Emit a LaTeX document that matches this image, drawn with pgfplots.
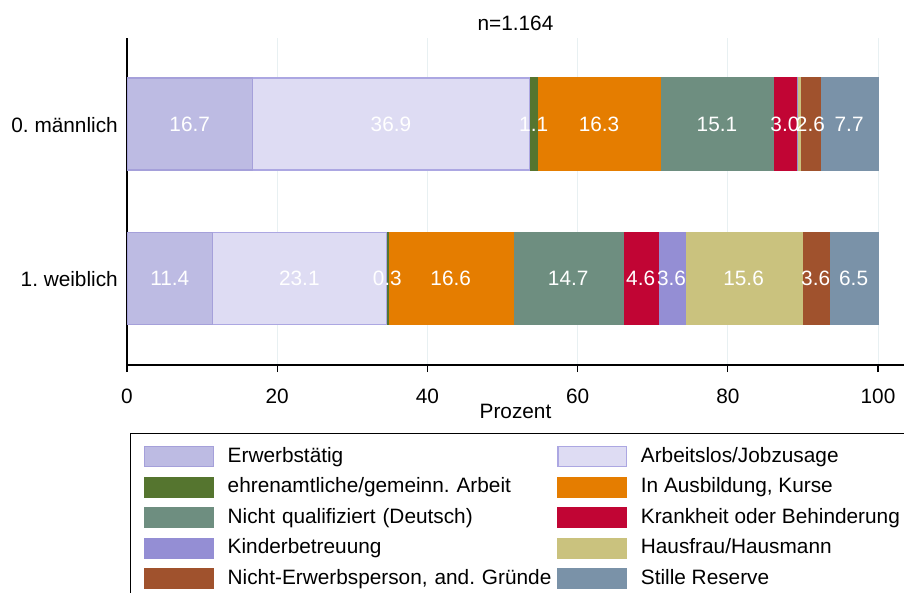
\documentclass[border=0pt]{standalone}
\usepackage{fontspec}
\setmainfont{Liberation Sans}
\usepackage{pgfplots}
\pgfplotsset{compat=1.18}
\usepackage{pgfplotstable}
\frenchspacing

\definecolor{c1}{RGB}{189,187,227}
\definecolor{c1b}{RGB}{165,160,218}
\definecolor{c2}{RGB}{222,220,243}
\definecolor{c2b}{RGB}{172,167,226}
\definecolor{c3}{RGB}{85,117,47}
\definecolor{c4}{RGB}{229,125,0}
\definecolor{c5}{RGB}{110,142,128}
\definecolor{c6}{RGB}{193,5,52}
\definecolor{c7}{RGB}{148,142,212}
\definecolor{c8}{RGB}{202,194,126}
\definecolor{c9}{RGB}{160,82,45}
\definecolor{c10}{RGB}{122,146,168}
\definecolor{gridc}{RGB}{232,240,242}

\newcommand{\fs}{\fontsize{20.8pt}{25pt}\selectfont}

% pos 0 = weiblich, pos 1 = maennlich
\pgfplotstableread{
pos val show
0 11.4 1
1 16.7 1
}\erw
\pgfplotstableread{
pos val show
0 23.1 1
1 36.9 1
}\arb
\pgfplotstableread{
pos val show
0 0.3 1
1 1.1 1
}\ehr
\pgfplotstableread{
pos val show
0 16.6 1
1 16.3 1
}\aus
\pgfplotstableread{
pos val show
0 14.7 1
1 15.1 1
}\nq
\pgfplotstableread{
pos val show
0 4.6 1
1 3.0 1
}\kra
\pgfplotstableread{
pos val show
0 3.6 1
1 0.1 0
}\kin
\pgfplotstableread{
pos val show
0 15.6 1
1 0.5 0
}\hau
\pgfplotstableread{
pos val show
0 3.6 1
1 2.6 1
}\nep
\pgfplotstableread{
pos val show
0 6.5 1
1 7.7 1
}\sti

\begin{document}
\fs
\begin{tikzpicture}
\useasboundingbox (0,0) rectangle (904pt,592pt);
\clip (0,0) rectangle (904pt,592pt);
\begin{axis}[
  at={(127pt,227pt)}, anchor=south west,
  scale only axis, width=777pt, height=327pt,
  xbar stacked, bar width=92pt,
  xmin=0, xmax=103.46, ymin=-0.560, ymax=1.557,
  axis x line*=bottom, axis y line*=left,
  axis line style={line width=1.2pt, black},
  xtick={0,20,...,100}, ytick={0,1},
  yticklabels={1. weiblich, 0. männlich},
  xmajorgrids, grid style={color=gridc, line width=1pt},
  tick align=outside, major tick length=7pt,
  xtick style={line width=1.2pt, black},
  ytick style={draw=none},
  /pgf/number format/assume math mode=true,
  xticklabel style={anchor=base, yshift=-31pt, inner sep=0pt, font=\fs},
  yticklabel style={anchor=base east, xshift=-2pt, yshift=-8pt, inner sep=0pt, font=\fs},
  xlabel={Prozent},
  xlabel style={at={(axis description cs:0.5,0)}, anchor=base, yshift=-53pt, inner sep=0pt, font=\fs},
  title={n=1.164},
  title style={at={(axis description cs:0.5,1)}, anchor=base, yshift=1pt, inner sep=0pt, font=\fs},
  point meta=explicit symbolic,
  visualization depends on={rawx \as \vv},
  nodes near coords={\ifnum\pgfplotspointmeta=1 \pgfmathprintnumber[fixed,fixed zerofill,precision=1]{\vv}\fi},
  every node near coord/.append style={anchor=center, text=white, font=\fs, inner sep=0pt},
  legend columns=2,
  legend cell align=left,
  legend image code/.code={\draw[#1, line width=1.2pt] (0.6pt,-9.9pt) rectangle (69.4pt,9.9pt); \path (0pt,0pt) (83pt,0pt);},
  legend style={at={(axis description cs:0,0)}, anchor=north west, xshift=3pt, yshift=-68pt,
     draw=black, line width=1pt, inner xsep=13pt, inner ysep=12.5pt, row sep=9.5pt, column sep=0pt,
     font=\fs, nodes={inner sep=0pt},
     /tikz/column 2/.style={nodes={text width=329pt, inner sep=0pt}}},
]
\addplot[fill=c1, draw=c1b, line width=1.2pt] table[x=val, y=pos, meta=show] {\erw};
\addlegendentry{Erwerbstätig}
\addplot[fill=c2, draw=c2b, line width=1.2pt] table[x=val, y=pos, meta=show] {\arb};
\addlegendentry{Arbeitslos/Jobzusage}
\addplot[fill=c3, draw=c3, line width=1.2pt] table[x=val, y=pos, meta=show] {\ehr};
\addlegendentry{ehrenamtliche/gemeinn. Arbeit}
\addplot[fill=c4, draw=c4, line width=1.2pt] table[x=val, y=pos, meta=show] {\aus};
\addlegendentry{In Ausbildung, Kurse}
\addplot[fill=c5, draw=c5, line width=1.2pt] table[x=val, y=pos, meta=show] {\nq};
\addlegendentry{Nicht qualifiziert (Deutsch)}
\addplot[fill=c6, draw=c6, line width=1.2pt] table[x=val, y=pos, meta=show] {\kra};
\addlegendentry{Krankheit oder Behinderung}
\addplot[fill=c7, draw=c7, line width=1.2pt] table[x=val, y=pos, meta=show] {\kin};
\addlegendentry{Kinderbetreuung}
\addplot[fill=c8, draw=c8, line width=1.2pt] table[x=val, y=pos, meta=show] {\hau};
\addlegendentry{Hausfrau/Hausmann}
\addplot[fill=c9, draw=c9, line width=1.2pt] table[x=val, y=pos, meta=show] {\nep};
\addlegendentry{Nicht-Erwerbsperson, and. Gründe}
\addplot[fill=c10, draw=c10, line width=1.2pt] table[x=val, y=pos, meta=show] {\sti};
\addlegendentry{Stille Reserve}
\end{axis}
\end{tikzpicture}
\end{document}
